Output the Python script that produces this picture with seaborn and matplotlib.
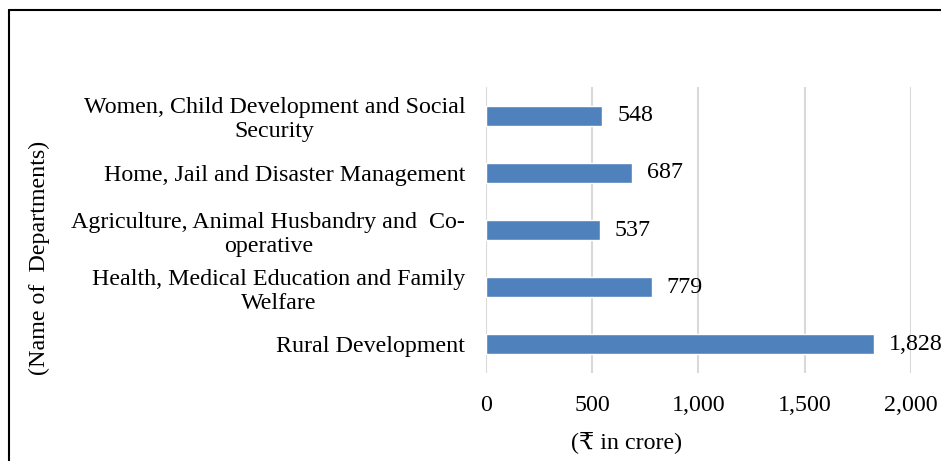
import matplotlib
matplotlib.use("Agg")
import matplotlib.pyplot as plt
import matplotlib.lines as mlines
import pandas as pd
import seaborn as sns

departments = [
    "Women, Child Development and Social\nSecurity",
    "Home, Jail and Disaster Management",
    "Agriculture, Animal Husbandry and  Co-\noperative",
    "Health, Medical Education and Family\nWelfare",
    "Rural Development",
]
amounts = [548, 687, 537, 779, 1828]
x_ticks = [0, 500, 1000, 1500, 2000]

df = pd.DataFrame({"Department": departments, "Amount": amounts})

sns.set_style("white")
plt.rcParams["font.family"] = ["Liberation Serif", "DejaVu Serif", "DejaVu Sans"]
plt.rcParams["text.color"] = "black"
plt.rcParams["xtick.color"] = "black"
plt.rcParams["ytick.color"] = "black"
plt.rcParams["axes.labelcolor"] = "black"

fs = 17.3

fig = plt.figure(figsize=(9.41, 4.61), dpi=100)
ax = fig.add_axes([0.5165, 0.191, 0.4515, 0.620])

sns.barplot(data=df, x="Amount", y="Department", orient="h", color="#4F81BD",
            saturation=1, width=0.35, ax=ax)

ax.set_xlim(0, 2000)
ax.set_ylim(4.5, -0.5)
ax.set_xticks(x_ticks)
ax.set_xticklabels([f"{v:,}" for v in x_ticks], fontsize=fs)
ax.tick_params(axis="x", length=0, pad=16)
ax.tick_params(axis="y", length=0, pad=15)
for lab in ax.get_yticklabels():
    lab.set_fontsize(fs)
    lab.set_multialignment("center")

ax.xaxis.grid(True, color="#D9D9D9", linewidth=1.5)
ax.set_axisbelow(True)
for s in ax.spines.values():
    s.set_visible(False)

for i, v in enumerate(amounts):
    ax.text(v + 70, i, f"{v:,}", va="center", ha="left", fontsize=fs, clip_on=False)

ax.set_xlabel("(\u20b9 in crore)", fontsize=fs)
ax.xaxis.set_label_coords(0.33, -0.205)
ax.set_ylabel("")
fig.text(0.042, 0.44, "(Name of  Departments)", rotation=90, va="center", ha="center", fontsize=fs)

# outer border (figure is cropped on right and bottom)
fig.add_artist(mlines.Line2D([0.0096, 0.0096], [0, 0.978], color="black", linewidth=1.5))
fig.add_artist(mlines.Line2D([0.0096, 1.0], [0.978, 0.978], color="black", linewidth=1.5))

fig.savefig("out.png", dpi=100)
